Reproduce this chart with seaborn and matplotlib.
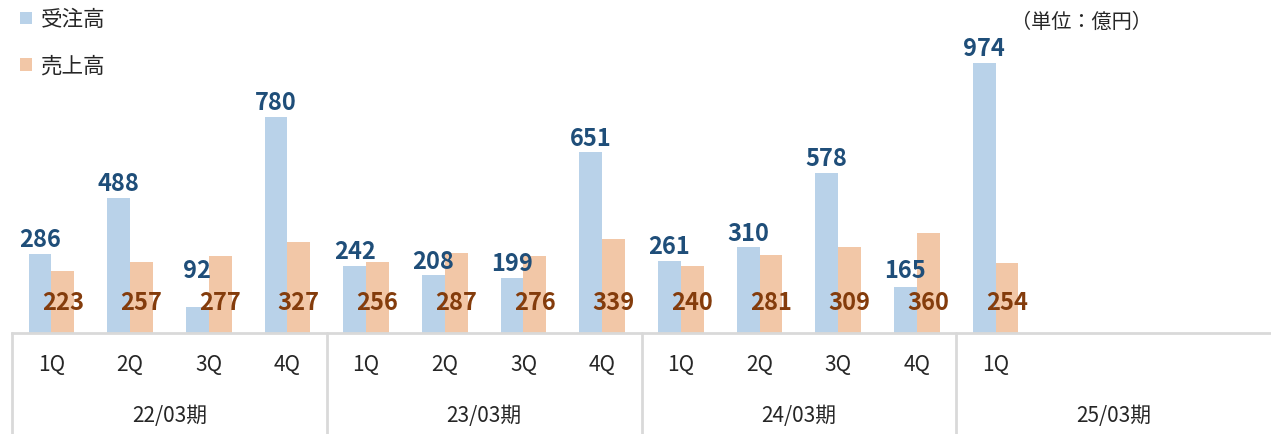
import numpy as np
import pandas as pd
import matplotlib
matplotlib.use("Agg")
import matplotlib.pyplot as plt
import matplotlib.transforms as mtransforms
import seaborn as sns

# データ
years = ["22/03期", "23/03期", "24/03期", "25/03期"]
quarters = ["1Q", "2Q", "3Q", "4Q"]
orders = [286, 488, 92, 780, 242, 208, 199, 651, 261, 310, 578, 165, 974]   # 受注高
sales = [223, 257, 277, 327, 256, 287, 276, 339, 240, 281, 309, 360, 254]   # 売上高
series = ["受注高", "売上高"]
unit_text = "（単位：億円）"

sns.set_style("white")
plt.rcParams['font.family'] = ['Noto Sans CJK JP', 'DejaVu Sans']

slots = [f"{y} {q}" for y in years for q in quarters]
n = len(orders)
df = pd.DataFrame({
    "slot": slots[:n] * 2,
    "value": orders + sales,
    "series": [series[0]] * n + [series[1]] * n,
})

colors = {"受注高": "#B9D2E9", "売上高": "#F2C7A7"}
fig = plt.figure(figsize=(12.71, 4.34), dpi=100)
ax = fig.add_axes([12 / 1271, 1 - 333 / 434, 1 - 12 / 1271, 333 / 434])

sns.barplot(data=df, x="slot", y="value", hue="series", order=slots,
            hue_order=series, palette=colors, width=0.58, gap=0,
            saturation=1, linewidth=0, ax=ax, legend=True)

ax.set_xlim(-0.5, len(slots) - 0.5)
ax.set_ylim(0, 1200)
ax.set_xlabel("")
ax.set_ylabel("")
ax.set_xticks([])
ax.set_yticks([])
for s in ["top", "left", "right"]:
    ax.spines[s].set_visible(False)
ax.spines["bottom"].set_color("#D9D9D9")
ax.spines["bottom"].set_linewidth(2)

# データラベル（受注高は上、売上高は棒の根元）
for p, v in zip(ax.containers[0].patches, orders):
    ax.annotate(str(v), (p.get_x() + p.get_width() / 2, max(v, 175)),
                xytext=(0, 1), textcoords="offset points", ha="center", va="bottom",
                color="#1F4E79", fontsize=17, fontweight="bold")
for p, v in zip(ax.containers[1].patches, sales):
    ax.text(p.get_x() + p.get_width() / 2, 108, str(v), ha="center", va="center",
            color="#843C0C", fontsize=17, fontweight="bold")

# 軸の項目（四半期・年度）
trans = mtransforms.blended_transform_factory(ax.transData, ax.transAxes)
for i in range(n):
    ax.text(i, -0.096, quarters[i % 4], transform=trans, ha="center", va="center",
            fontsize=15, color="#262626", clip_on=False)
for j, y in enumerate(years):
    ax.text(j * 4 + 1.5, -0.25, y, transform=trans, ha="center", va="center",
            fontsize=15, color="#262626", clip_on=False)
for j in range(len(years)):
    ax.plot([j * 4 - 0.5, j * 4 - 0.5], [0, -0.31], transform=trans,
            color="#D9D9D9", lw=2, clip_on=False)

# 凡例
ax.legend(loc="upper left", bbox_to_anchor=(0.009, 1.0), bbox_transform=fig.transFigure,
          frameon=False, fontsize=15.5, handlelength=0.55, handleheight=0.55,
          handletextpad=0.4, labelspacing=1.15, borderaxespad=0)

fig.text(1152 / 1271, 1 - 22 / 434, unit_text, ha="right", va="center",
         fontsize=14.5, color="#262626")

fig.savefig("out.png", dpi=100)
